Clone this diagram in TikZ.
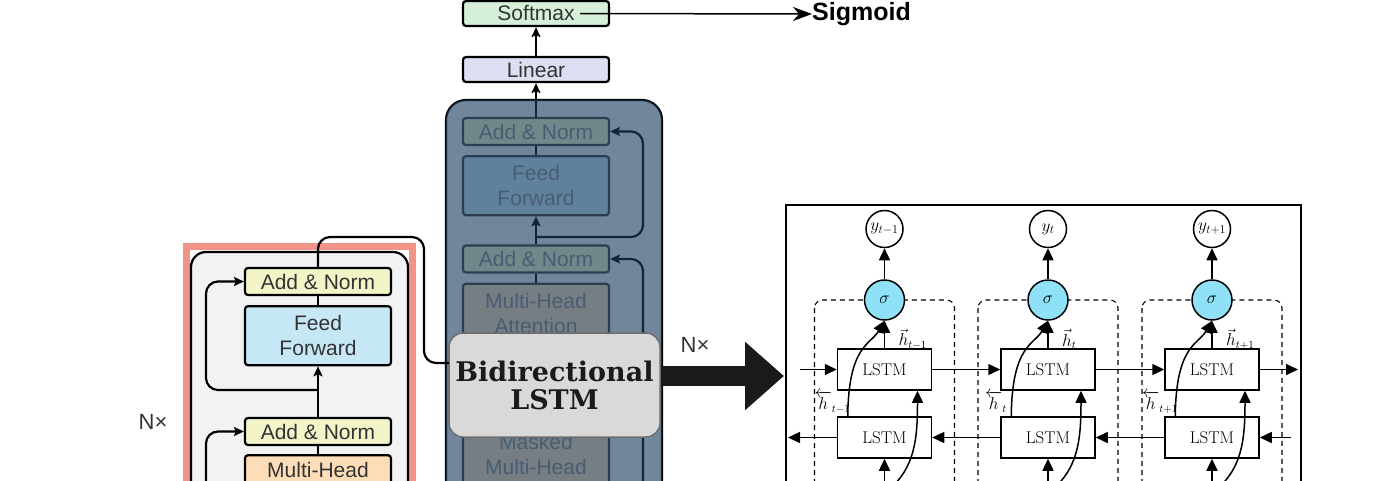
\documentclass[tikz,border=0pt]{standalone}
\usepackage{fontspec}
\usepackage{amsmath}
\usepackage{xcolor}
\usepackage{tikz}
\usetikzlibrary{positioning, arrows.meta, calc}
\newfontfamily\blockfont{Liberation Sans}
\newfontfamily\bilstmfont{DejaVu Serif}
\definecolor{encFrame}{HTML}{F29389}
\definecolor{blockBg}{HTML}{F2F2F2}
\definecolor{normFill}{HTML}{F3F5C9}
\definecolor{ffFill}{HTML}{C6E7F6}
\definecolor{attnFill}{HTML}{FCDDB8}
\definecolor{softFill}{HTML}{D5EFD9}
\definecolor{linFill}{HTML}{DCDEF1}
\definecolor{veilBlue}{HTML}{1D3E61}
\definecolor{lstmGray}{HTML}{D9D9D9}
\definecolor{lstmEdge}{HTML}{6E6E6E}
\definecolor{sigmaCyan}{HTML}{8FE1F7}
\definecolor{bodyText}{HTML}{333333}
\definecolor{fadedText}{HTML}{8C8C8C}
\definecolor{arrowBlack}{HTML}{1A1A1A}

\begin{document}
\begin{tikzpicture}[x=1pt, y=-1pt,
  every node/.style={inner sep=0pt},
  blk/.style={rectangle, rounded corners=3pt, draw=black, line width=2.2pt,
              text=bodyText, minimum width=146pt, minimum height=27pt,
              align=center, font=\blockfont\fontsize{21}{25}\selectfont},
  normbox/.style={blk, fill=normFill},
  ffbox/.style={blk, fill=ffFill, minimum height=59pt},
  attnbox/.style={blk, fill=attnFill, minimum height=59pt},
  maskbox/.style={blk, fill=attnFill, minimum height=83pt},
  softbox/.style={blk, fill=softFill, minimum height=25pt},
  linbox/.style={blk, fill=linFill, minimum height=25pt},
  faded/.style={text=fadedText, draw=black!75},
  stackbox/.style={draw=black, line width=2.2pt, fill=blockBg, rounded corners=15pt},
  wire/.style={draw=black, line width=2.2pt, rounded corners=12pt},
  wirearr/.style={wire, -{Stealth[length=10pt, width=9pt, inset=2pt]}},
  nlbl/.style={font=\blockfont\fontsize{22}{24}\selectfont, text=bodyText},
  bilstmbox/.style={rectangle, rounded corners=14pt, draw=lstmEdge, line width=1.5pt,
              fill=lstmGray, minimum width=211pt, minimum height=104pt, align=center,
              text=arrowBlack, font=\bilstmfont\bfseries\fontsize{27}{28}\selectfont},
  lstmbox/.style={rectangle, draw=black, line width=1.5pt, fill=white,
              minimum width=94pt, minimum height=41pt, font=\fontsize{17}{19}\selectfont},
  outcirc/.style={circle, draw=black, line width=1.5pt, fill=white,
              minimum size=37pt, font=\fontsize{17}{19}\selectfont},
  sigcirc/.style={circle, draw=black, line width=1.5pt, fill=sigmaCyan,
              minimum size=40pt, font=\fontsize{19}{21}\selectfont},
  dashframe/.style={draw=black, line width=1.1pt, dash pattern=on 5pt off 4pt,
              rounded corners=8pt},
  larr/.style={draw=black, line width=1.5pt, -{Triangle[length=12pt, width=11pt]}},
  hlbl/.style={font=\fontsize{16}{18}\selectfont},
]
  \useasboundingbox (0,0) rectangle (1390,480);
  \clip (0,0) rectangle (1390,480);

  % ═══ Encoder stack on the left, with its salmon frame ═══
  \draw[encFrame, line width=7pt] (186.5,520) |- (412.5,246.5) -- (412.5,520);
  \draw[stackbox] (191,252) rectangle (408,540);

  \node[normbox] at (318, 281.5) (encNormTop) {Add \& Norm};
  \node[ffbox, below=9pt of encNormTop] (encFF) {Feed\\Forward};
  \node[normbox] at (318, 431.5) (encNormMid) {Add \& Norm};
  \node[attnbox, below=8pt of encNormMid, minimum height=54pt] (encAttn) {Multi-Head\\Attention};

  \coordinate (encSplit)   at (318, 390);
  \coordinate (encSkipTop) at (206, 281.5);
  \coordinate (encSkipLow) at (206, 500);
  \coordinate (encOutBend) at (424, 237);

  \draw[wirearr] (encNormMid.north) -- (encFF.south);
  \draw[wire] (encFF.north) -- (encNormTop.south);
  \draw[wire] (encAttn.north) -- (encNormMid.south);
  \draw[wirearr] (encSplit) -| (encSkipTop) -- (encNormTop.west);
  \draw[wirearr] (encSkipLow) |- (encNormMid.west);

  \node[nlbl] at (153, 421.5) (encReps) {N×};

  % ═══ Decoder stack in the middle, veiled ═══
  \draw[stackbox, rounded corners=20pt] (446,100) rectangle (662,540);

  \node[normbox, faded] at (536, 131.5) (decNormTop) {Add \& Norm};
  \node[ffbox, faded, below=9pt of decNormTop] (decFF) {Feed\\Forward};
  \node[normbox, faded] at (536, 259) (decNormMid) {Add \& Norm};
  \node[attnbox, faded, below=9pt of decNormMid] (decAttn) {Multi-Head\\Attention};
  \node[normbox, faded] at (536, 383) (decNormLow) {Add \& Norm};
  \node[maskbox, faded] at (536, 467) (decMasked) {Masked\\Multi-Head\\Attention};

  \node[linbox] at (536, 69.5) (linear) {Linear};
  \node[softbox] at (536, 13.5) (softmax) {Softmax};

  \coordinate (decSplit)   at (536, 237);
  \coordinate (decSkipTop) at (643, 131.5);
  \coordinate (decSkipLow) at (643, 520);

  \draw[wirearr] (decNormMid.north) -- (decFF.south);
  \draw[wire] (decFF.north) -- (decNormTop.south);
  \draw[wire] (decAttn.north) -- (decNormMid.south);
  \draw[wirearr] (decNormLow.north) -- (decAttn.south);
  \draw[wire] (decMasked.north) -- (decNormLow.south);
  \draw[wirearr] (decSplit) -| (decSkipTop) -- (decNormTop.east);
  \draw[wirearr] (decSkipLow) |- (decNormMid.east);
  \draw[wirearr] (decNormTop.north) -- (linear.south);
  \draw[wirearr] (linear.north) -- (softmax.south);

  % the veil over the whole decoder
  \fill[veilBlue, opacity=0.6, rounded corners=20pt] (446,100) rectangle (662,540);

  % ═══ Softmax swapped for a sigmoid ═══
  \coordinate (softTail) at ($(softmax.center)+(44pt,0)$);
  \node[anchor=west, font=\blockfont\bfseries\fontsize{25}{27}\selectfont]
        at (812, 14) (sigmoid) {Sigmoid};
  \draw[line width=1.5pt, -{Stealth[length=19pt, width=14pt, inset=6pt]}]
        (softTail) -- (sigmoid.west);

  % ═══ Bidirectional LSTM block on top of the decoder ═══
  \node[bilstmbox] at (554.5, 385) (bilstm) {Bidirectional\\LSTM};
  \coordinate (bilstmIn) at (449, 363);
  \draw[wire] (encNormTop.north) |- (encOutBend) |- (bilstmIn);

  \node[nlbl] at (695, 345) (bilstmReps) {N×};

  % ═══ Unrolled BiLSTM on the right ═══
  \node[draw=black, line width=1.8pt, fill=white, minimum width=515pt,
        minimum height=330pt, anchor=north west] at (785, 204) (panel) {};
  \coordinate (panelIn) at (784, 376);
  \draw[arrowBlack, line width=20pt, -{Triangle[length=39pt, width=66pt]}]
        (bilstm.east |- panelIn) -- (panelIn);

  \foreach \i/\cx/\sub in {1/884.5/t-1, 2/1048/t, 3/1212/t+1} {
    \draw[dashframe] ({\cx-70}, 300) rectangle ({\cx+70}, 540);
    \node[outcirc] at (\cx, 229) (yOut\i) {$y_{\sub}$};
    \node[sigcirc] at (\cx, 300) (sig\i) {$\sigma$};
    \node[lstmbox] at (\cx, 369.5) (fwd\i) {LSTM};
    \node[lstmbox] at (\cx, 437.5) (bwd\i) {LSTM};
    \coordinate (bwdIn\i)   at (\cx, 490);
    \coordinate (bwdFeed\i) at ({\cx+4}, 490);

    \draw[larr] (sig\i) -- (yOut\i);
    \draw[larr] (fwd\i) -- (sig\i);
    \draw[larr] ($(bwd\i.north west)+(11pt,0)$) .. controls ({\cx-36}, 345) and ({\cx-14}, 345) .. (sig\i.south);
    \draw[larr] (bwdIn\i) -- (bwd\i.south);
    \draw[larr] (bwdFeed\i) .. controls ({\cx+30}, 468) and ({\cx+33}, 440) .. ($(fwd\i.south)+(33pt,0)$);

    \node[hlbl, anchor=west] at ({\cx+14}, 339) (hFwd\i) {$\vec{h}_{\sub}$};
    \node[hlbl] at ({\cx-52}, 402) (hBwd\i) {$\overleftarrow{h}{}_{\sub}$};
  }

  % forward and backward chains
  \coordinate (fwdStart) at (800, 369.5);
  \coordinate (fwdEnd)   at (1298, 369.5);
  \coordinate (bwdStart) at (1291, 437.5);
  \coordinate (bwdEnd)   at (788, 437.5);
  \draw[larr] (fwdStart) -- (fwd1);
  \draw[larr] (fwd1) -- (fwd2);
  \draw[larr] (fwd2) -- (fwd3);
  \draw[larr] (fwd3) -- (fwdEnd);
  \draw[larr] (bwdStart) -- (bwd3);
  \draw[larr] (bwd3) -- (bwd2);
  \draw[larr] (bwd2) -- (bwd1);
  \draw[larr] (bwd1) -- (bwdEnd);
\end{tikzpicture}
\end{document}
